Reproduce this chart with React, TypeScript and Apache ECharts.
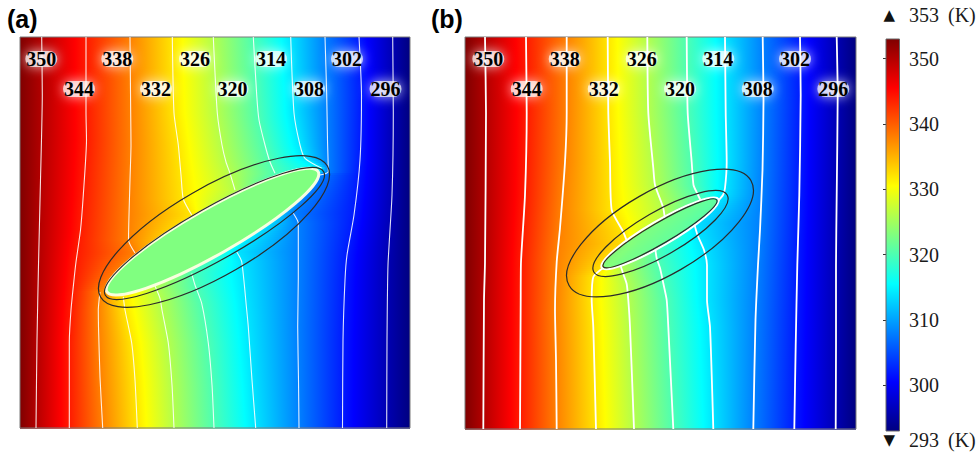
import React, { useEffect, useRef } from "react";
import * as echarts from "echarts";

// Temperature scale (K)
const TEMP_RANGE = [293, 353];
const WALL_TEMPS = [353, 293]; // hot left wall, cold right wall
const ISO_TEMPS = [350, 344, 338, 332, 326, 320, 314, 308, 302, 296];
const COLORBAR_TICKS = [300, 310, 320, 330, 340, 350];
const INCLUSION_TEMP_A = 323;
const INCLUSION_TEMP_B = 322;

// Domain extent of each panel: [width, height], y measured downward from the top edge
const DOMAIN_A = [390, 391];
const DOMAIN_B = [391, 392];

// Isotherms of panel (a); each one is a list of segments (broken where it meets the inclusion)
const a350 = [[[21.7, 0], [22.3, 58], [20.5, 143], [18.5, 228], [17, 303], [16, 391]]];
const a344 = [[[66, 0], [66, 76], [66.5, 103], [63.3, 158], [60.5, 193], [56, 225], [54.3, 240], [51, 273], [49.3, 306], [49.3, 391]]];
const a338 = [
  [[110, 0], [110.7, 76], [111, 108], [110, 143], [108.5, 203], [115, 216]],
  [[80, 255], [78.3, 273], [78.5, 290], [80, 340], [82.7, 391]],
];
const a332 = [
  [[152.3, 0], [154, 76], [158.3, 108], [161, 138], [163.3, 162], [171.7, 178]],
  [[103.3, 259.7], [105, 273], [111.7, 306], [115, 343], [117.3, 391]],
];
const a326 = [
  [[193.3, 0], [197.3, 76], [202, 108], [206, 125], [210, 136.3], [215, 153]],
  [[135, 249], [140, 261.3], [142, 273], [148.3, 306], [152, 348], [154, 391]],
];
const a320 = [
  [[233.3, 0], [236.7, 58], [239, 83], [245, 108], [250, 125], [255, 136.3]],
  [[171.7, 236.3], [175, 248], [181.7, 266.3], [188.3, 306], [192, 348], [194, 391]],
];
const a314 = [
  [[270.7, 0], [274, 76], [280, 108], [285, 121.3], [301.7, 131.3]],
  [[216.7, 214.7], [221.7, 224.7], [226.7, 273], [228.3, 290], [232, 343], [235.7, 391]],
];
const a308 = [
  [[305, 0], [306.7, 58], [307.5, 103], [308.3, 134.7], [300, 138]],
  [[273.3, 176.3], [278.3, 186.3], [278.3, 241.3], [277.7, 290], [278.5, 343], [279, 391]],
];
const a302 = [[[339, 0], [341.5, 58], [340, 123], [334, 178], [327, 218], [325, 243], [323, 303], [322.5, 391]]];
const a296 = [[[372.7, 0], [373.3, 76], [372, 158], [368, 228], [367, 303], [366.7, 391]]];

// Isotherms of panel (b)
const b350 = [[[20, 0], [21, 76], [20, 225], [19, 263], [18.3, 392]]];
const b344 = [[[61, 0], [61.7, 76], [60, 158], [56, 225], [55.7, 263], [55, 392]]];
const b338 = [[[101.7, 0], [101.7, 76], [100, 125], [95, 191], [91.7, 225], [90, 273], [91, 323], [91.7, 392]]];
const b332 = [
  [[142.7, 0], [143.3, 76], [145, 125], [146.7, 173], [158.3, 195], [163, 207]],
  [[138, 231], [128.3, 240], [126.7, 263], [128.3, 290], [131, 392]],
];
const b326 = [
  [[182.3, 0], [183.3, 76], [188.3, 131], [190, 148], [198, 170], [200, 182]],
  [[155, 227], [158.3, 237], [161.7, 247], [163.3, 263], [165, 290], [169, 392]],
];
const b320 = [
  [[221.7, 0], [222.7, 76], [226.7, 125], [228.5, 148], [232, 156], [236, 164]],
  [[190, 210], [191.7, 221.3], [195, 231], [198.3, 246.3], [201.7, 263], [203.3, 290], [208.3, 392]],
];
const b314 = [
  [[260, 0], [260.7, 76], [261.7, 125], [260, 151], [258, 158], [253, 164]],
  [[229, 186], [232.5, 198], [239, 213], [242, 228], [242, 263], [245, 290], [248.3, 392]],
];
const b308 = [[[297.7, 0], [298.5, 63], [297.5, 133], [295, 193], [293, 228], [290.5, 283], [288.3, 392]]];
const b302 = [[[335, 0], [335.7, 58], [334.3, 158], [332.3, 228], [330.7, 308], [329.3, 392]]];
const b296 = [[[371.7, 0], [372.7, 58], [371.7, 158], [371, 228], [371, 308], [370.7, 392]]];

const ISOTHERMS_A = [a350, a344, a338, a332, a326, a320, a314, a308, a302, a296];
const ISOTHERMS_B = [b350, b344, b338, b332, b326, b320, b314, b308, b302, b296];

// Contour label anchors, in ISO_TEMPS order
const labelsA = [[21.3, 22], [59, 52], [97.3, 22], [136, 52], [175, 22], [212.5, 52], [251, 22], [289, 52], [327, 22], [365.5, 52]];
const labelsB = [[23.3, 22], [61.7, 52], [99.7, 22], [138.7, 52], [176.7, 22], [215, 52], [253.3, 22], [292.7, 52], [330, 22], [368.3, 52]];

// Ellipses: [centre x, centre y, semi-major, semi-minor, tilt in degrees]
const inclusionA = [192.5, 194.7, 121.6, 23, 29.6];
const innerRingA = [194.5, 196.5, 125.5, 26.5, 29.5];
const outerRingA = [194, 194.5, 131, 44, 30];
const inclusionB = [195, 196.3, 65.8, 10.5, 30.4];
const innerRingB = [195.5, 196.5, 77, 22, 30];
const outerRingB = [195, 196, 105, 42, 30];

const SERIF = '"Liberation Serif", "Times New Roman", serif';
const SANS = '"Liberation Sans", Arial, sans-serif';

// Jet colormap over the temperature range
function jetRGB(T: number) {
  const t = Math.min(1, Math.max(0, (T - TEMP_RANGE[0]) / (TEMP_RANGE[1] - TEMP_RANGE[0])));
  const c = (v: number) => Math.round(255 * Math.min(1, Math.max(0, v)));
  return [c(1.5 - Math.abs(4 * t - 3)), c(1.5 - Math.abs(4 * t - 2)), c(1.5 - Math.abs(4 * t - 1))];
}
function jetColor(T: number, alpha = 1) {
  const [r, g, b] = jetRGB(T);
  return alpha < 1 ? `rgba(${r},${g},${b},${alpha})` : `rgb(${r},${g},${b})`;
}
const JET_BREAKS = [0.125, 0.375, 0.625, 0.875].map((t) => TEMP_RANGE[0] + t * (TEMP_RANGE[1] - TEMP_RANGE[0]));

function xAt(poly: number[][], y: number) {
  if (y <= poly[0][1]) return poly[0][0];
  for (let i = 1; i < poly.length; i++) {
    if (y <= poly[i][1]) {
      const [x0, y0] = poly[i - 1];
      const [x1, y1] = poly[i];
      const f = y1 === y0 ? 1 : (y - y0) / (y1 - y0);
      return x0 + f * (x1 - x0);
    }
  }
  return poly[poly.length - 1][0];
}

// gradient stops along one row of the field, temperature linear between isotherms
function rowStops(pts: number[][], width: number) {
  const stops: any[] = [];
  const off = (x: number) => Math.min(1, Math.max(0, x / width));
  for (let i = 0; i < pts.length; i++) {
    const [x, T] = pts[i];
    stops.push({ offset: off(x), color: jetColor(T) });
    if (i < pts.length - 1) {
      const [x2, T2] = pts[i + 1];
      JET_BREAKS.filter((b) => b < T && b > T2)
        .sort((p, q) => q - p)
        .forEach((b) => {
          const f = (T - b) / (T - T2);
          stops.push({ offset: off(x + f * (x2 - x)), color: jetColor(b) });
        });
    }
  }
  return stops;
}

function fieldRenderer(isotherms: number[][][][], domain: number[]) {
  const [width, height] = domain;
  const polys = isotherms.map((segs) => segs.flat());
  return (_params: any, api: any) => {
    const children: any[] = [];
    const step = 2;
    for (let y = 0; y < height; y += step) {
      const y2 = Math.min(height, y + step);
      const yc = (y + y2) / 2;
      const pts: number[][] = [[0, WALL_TEMPS[0]]];
      let prev = 0;
      polys.forEach((poly, i) => {
        let x = xAt(poly, yc);
        if (x < prev) x = prev;
        pts.push([x, ISO_TEMPS[i]]);
        prev = x;
      });
      pts.push([width, WALL_TEMPS[1]]);
      const p0 = api.coord([0, y]);
      const p1 = api.coord([width, y2]);
      children.push({
        type: "rect",
        silent: true,
        shape: { x: p0[0], y: p0[1], width: p1[0] - p0[0], height: p1[1] - p0[1] + 0.7 },
        style: { fill: { type: "linear", x: 0, y: 0, x2: 1, y2: 0, colorStops: rowStops(pts, width) } },
      });
    }
    const tl = api.coord([0, 0]);
    const br = api.coord([width, height]);
    children.push({
      type: "rect",
      silent: true,
      shape: { x: tl[0], y: tl[1], width: br[0] - tl[0], height: br[1] - tl[1] },
      style: { fill: "none", stroke: "#7a7a7a", lineWidth: 1 },
    });
    return { type: "group", children };
  };
}

function ellipseEl(api: any, e: number[], grow: number, style: any) {
  const c = api.coord([e[0], e[1]]);
  const s = api.size([1, 1]);
  return {
    type: "ellipse",
    silent: true,
    x: c[0],
    y: c[1],
    rotation: (e[4] * Math.PI) / 180,
    shape: { cx: 0, cy: 0, rx: (e[2] + grow) * Math.abs(s[0]), ry: (e[3] + grow) * Math.abs(s[1]) },
    style,
  };
}

const RING_STROKE = { fill: "none", stroke: "#2b2b2b", lineWidth: 1.2 };

function ringsSeries(idx: number, rings: number[][], drawInclusion: (api: any, e: number[]) => any) {
  return {
    type: "custom",
    xAxisIndex: idx,
    yAxisIndex: idx,
    z: 3,
    silent: true,
    clip: false,
    data: rings.map((r, i) => [...r, i]),
    renderItem: (params: any, api: any) => {
      const e = rings[params.dataIndex];
      if (params.dataIndex === 0) return drawInclusion(api, e);
      return ellipseEl(api, e, 0, RING_STROKE);
    },
  };
}

function lineSeries(idx: number, isotherms: number[][][][], color: string, width: number) {
  const out: any[] = [];
  isotherms.forEach((segs) =>
    segs.forEach((seg) =>
      out.push({
        type: "line",
        xAxisIndex: idx,
        yAxisIndex: idx,
        data: seg,
        showSymbol: false,
        symbol: "none",
        smooth: 0.2,
        silent: true,
        z: 2,
        lineStyle: { color, width },
      })
    )
  );
  return out;
}

// contour labels: soft white halo drawn as a custom element, black bold digits on top
function labelSeries(idx: number, anchors: number[][]) {
  return {
    type: "custom",
    xAxisIndex: idx,
    yAxisIndex: idx,
    z: 5,
    silent: true,
    clip: false,
    data: anchors.map((p, i) => [p[0], p[1], ISO_TEMPS[i]]),
    renderItem: (_params: any, api: any) => {
      const c = api.coord([api.value(0), api.value(1)]);
      return {
        type: "group",
        children: [
          {
            type: "rect",
            silent: true,
            shape: { x: c[0] - 16, y: c[1] - 8, width: 32, height: 16, r: 8 },
            style: { fill: "rgba(255,255,255,0.7)", shadowColor: "#ffffff", shadowBlur: 12 },
          },
          {
            type: "text",
            silent: true,
            x: c[0],
            y: c[1],
            style: {
              text: String(api.value(2)),
              font: `bold 20px ${SERIF}`,
              fill: "#000",
              align: "center",
              verticalAlign: "middle",
            },
          },
        ],
      };
    },
  };
}

function colorbarStops() {
  const span = TEMP_RANGE[1] - TEMP_RANGE[0];
  const temps = [TEMP_RANGE[1], ...[...JET_BREAKS].sort((p, q) => q - p), TEMP_RANGE[0]];
  return temps.map((T) => ({ offset: (TEMP_RANGE[1] - T) / span, color: jetColor(T) }));
}

function buildOption() {
  const tickStyle = { show: true, inside: true, length: 3, customValues: COLORBAR_TICKS, lineStyle: { color: "#333", width: 1 } };
  const tri = '15px "DejaVu Sans", sans-serif';
  return {
    animation: false,
    backgroundColor: "#fff",
    grid: [
      { left: 20, top: 37, width: 390, height: 391 },
      { left: 465, top: 37, width: 391, height: 392 },
      { left: 886, top: 39, width: 13.5, height: 392 },
    ],
    xAxis: [
      { gridIndex: 0, type: "value", min: 0, max: DOMAIN_A[0], show: false },
      { gridIndex: 1, type: "value", min: 0, max: DOMAIN_B[0], show: false },
      { gridIndex: 2, type: "value", min: 0, max: 1, show: false },
    ],
    yAxis: [
      { gridIndex: 0, type: "value", min: 0, max: DOMAIN_A[1], inverse: true, show: false },
      { gridIndex: 1, type: "value", min: 0, max: DOMAIN_B[1], inverse: true, show: false },
      {
        gridIndex: 2,
        type: "value",
        min: TEMP_RANGE[0],
        max: TEMP_RANGE[1],
        position: "right",
        axisLine: { show: false },
        splitLine: { show: false },
        axisTick: tickStyle,
        axisLabel: { show: true, customValues: COLORBAR_TICKS, margin: 9.5, fontSize: 20, fontFamily: SERIF, color: "#1a1a1a" },
      },
      {
        gridIndex: 2,
        type: "value",
        min: TEMP_RANGE[0],
        max: TEMP_RANGE[1],
        position: "left",
        axisLine: { show: false },
        splitLine: { show: false },
        axisTick: tickStyle,
        axisLabel: { show: false },
      },
    ],
    series: [
      { type: "custom", xAxisIndex: 0, yAxisIndex: 0, z: 1, silent: true, clip: false, data: [[0, 0]], renderItem: fieldRenderer(ISOTHERMS_A, DOMAIN_A) },
      { type: "custom", xAxisIndex: 1, yAxisIndex: 1, z: 1, silent: true, clip: false, data: [[0, 0]], renderItem: fieldRenderer(ISOTHERMS_B, DOMAIN_B) },
      ...lineSeries(0, ISOTHERMS_A, "rgba(255,255,255,0.88)", 1.1),
      ...lineSeries(1, ISOTHERMS_B, "#ffffff", 1.8),
      ringsSeries(0, [inclusionA, innerRingA, outerRingA], (api, e) =>
        ellipseEl(api, e, 0, { fill: jetColor(INCLUSION_TEMP_A), stroke: "rgba(255,255,228,0.95)", lineWidth: 3 })
      ),
      ringsSeries(1, [inclusionB, innerRingB, outerRingB], (api, e) => ({
        type: "group",
        children: [
          ellipseEl(api, e, 1.8, { fill: "none", stroke: "#ffffff", lineWidth: 2 }),
          ellipseEl(api, e, 0, { fill: jetColor(INCLUSION_TEMP_B, 0.85), stroke: "#2b2b2b", lineWidth: 1.2 }),
        ],
      })),
      labelSeries(0, labelsA),
      labelSeries(1, labelsB),
      {
        type: "custom",
        xAxisIndex: 2,
        yAxisIndex: 2,
        z: 2,
        silent: true,
        clip: false,
        data: [[0, TEMP_RANGE[0]]],
        renderItem: (_p: any, api: any) => {
          const t = api.coord([0, TEMP_RANGE[1]]);
          const b = api.coord([1, TEMP_RANGE[0]]);
          return {
            type: "rect",
            shape: { x: t[0], y: t[1], width: b[0] - t[0], height: b[1] - t[1] },
            style: { fill: { type: "linear", x: 0, y: 0, x2: 0, y2: 1, colorStops: colorbarStops() }, stroke: "#666", lineWidth: 1 },
          };
        },
      },
    ],
    graphic: [
      { type: "text", x: 7, y: 18.5, style: { text: "(a)", font: `bold 25px ${SANS}`, fill: "#000", verticalAlign: "middle" } },
      { type: "text", x: 431, y: 18.5, style: { text: "(b)", font: `bold 25px ${SANS}`, fill: "#000", verticalAlign: "middle" } },
      { type: "text", x: 883.5, y: 15, style: { text: "▲", font: tri, fill: "#111", verticalAlign: "middle" } },
      { type: "text", x: 909, y: 15, style: { text: String(TEMP_RANGE[1]), font: `20px ${SERIF}`, fill: "#1a1a1a", verticalAlign: "middle" } },
      { type: "text", x: 948, y: 15, style: { text: "(K)", font: `20px ${SERIF}`, fill: "#1a1a1a", verticalAlign: "middle" } },
      { type: "text", x: 883.5, y: 440, style: { text: "▼", font: tri, fill: "#111", verticalAlign: "middle" } },
      { type: "text", x: 909, y: 440, style: { text: String(TEMP_RANGE[0]), font: `20px ${SERIF}`, fill: "#1a1a1a", verticalAlign: "middle" } },
      { type: "text", x: 948, y: 440, style: { text: "(K)", font: `20px ${SERIF}`, fill: "#1a1a1a", verticalAlign: "middle" } },
    ],
  };
}

export default function App() {
  const ref = useRef<HTMLDivElement>(null);
  useEffect(() => {
    const chart = echarts.init(ref.current as HTMLDivElement, null, { renderer: "svg" });
    chart.setOption(buildOption() as any);
    return () => chart.dispose();
  }, []);
  return (
    <div
      ref={ref}
      style={{ position: "fixed", left: 0, top: 0, width: 980, height: 460, background: "#fff" }}
    />
  );
}
